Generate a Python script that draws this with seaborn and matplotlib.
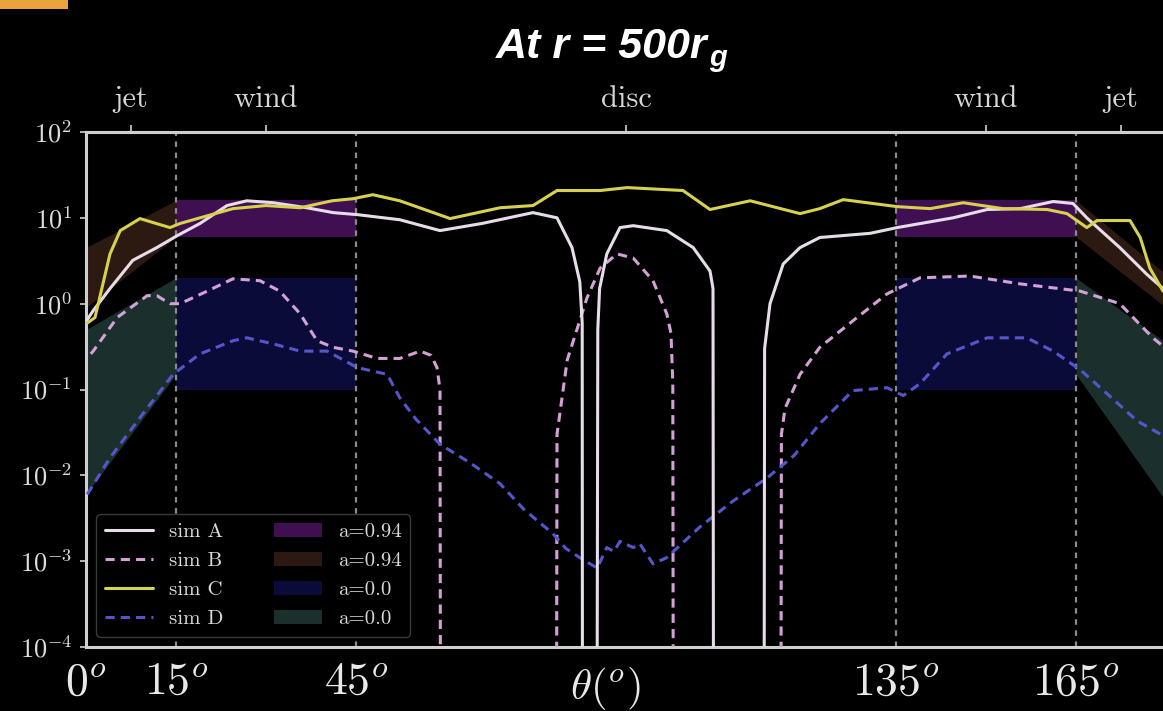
import numpy as np
import pandas as pd
import matplotlib
matplotlib.use("Agg")
import matplotlib.pyplot as plt
import seaborn as sns
from matplotlib.lines import Line2D
from matplotlib.patches import Patch, Rectangle

# ---------------- data ----------------
simA_theta = [0.2, 1.2, 4.0, 7.8, 11.8, 15.2, 19.0, 23.5, 26.8, 31.2, 36.8, 41.2, 45.2, 52.3,
              59.0, 66.0, 74.5, 78.5, 81.0, 82.3, 82.7, 82.75, 85.15, 85.3, 85.6, 86.8, 89.0,
              91.2, 96.8, 101.2, 104.0, 104.5, 104.6, 113.0, 113.1, 114.0, 116.2, 119.0, 122.3,
              130.7, 135.2, 144.5, 150.2, 155.7, 161.2, 164.5, 166.8, 172.3, 176.8, 179.5]
simA_val = [0.65, 0.83, 1.5, 3.2, 4.5, 6.2, 8.6, 13.9, 15.8, 15.0, 13.1, 11.5, 10.9, 9.5,
            7.1, 8.6, 11.5, 10.0, 4.5, 1.8, 0.6, 1e-6, 1e-6, 0.5, 1.5, 3.8, 7.7,
            8.1, 7.1, 4.5, 2.4, 1.5, 1e-6, 1e-6, 0.3, 1.0, 2.9, 4.5, 5.9,
            6.6, 7.7, 10.0, 12.5, 12.8, 15.5, 14.7, 10.0, 4.5, 2.2, 1.5]

simB_theta = [0.8, 1.2, 5.2, 10.2, 11.8, 14.0, 15.7, 20.2, 24.5, 29.0, 32.3, 35.7, 38.5, 41.2,
              44.5, 48.5, 52.3, 55.7, 57.5, 58.5, 59.0, 59.1, 78.4, 78.5, 80.2, 83.5, 85.7,
              88.5, 91.2, 94.5, 96.8, 97.5, 97.8, 97.9, 115.8, 115.9, 116.5, 119.0, 122.3,
              127.8, 133.5, 139.0, 147.3, 155.7, 165.7, 172.3, 177.8, 179.5]
simB_val = [0.26, 0.28, 0.69, 1.24, 1.24, 1.0, 1.0, 1.4, 1.95, 1.85, 1.4, 0.76, 0.37, 0.31,
            0.28, 0.23, 0.23, 0.28, 0.25, 0.18, 0.1, 1e-6, 1e-6, 0.03, 0.22, 1.17, 2.6,
            3.8, 3.4, 1.85, 0.76, 0.45, 0.12, 1e-6, 1e-6, 0.03, 0.06, 0.15, 0.31,
            0.63, 1.3, 2.0, 2.1, 1.7, 1.4, 1.0, 0.4, 0.32]

simC_theta = [0.3, 1.5, 4.0, 5.7, 9.0, 11.2, 14.0, 15.7, 19.0, 24.5, 30.0, 35.7, 41.0, 44.5,
              47.8, 52.3, 60.7, 69.0, 74.5, 78.5, 85.7, 90.2, 99.5, 104.0, 110.7, 119.0,
              122.3, 126.2, 135.2, 140.7, 146.2, 152.8, 160.2, 163.5, 166.8, 168.5, 174.0,
              175.7, 177.3, 179.5]
simC_val = [0.6, 0.69, 3.8, 7.1, 9.8, 8.8, 7.7, 8.6, 10.0, 12.8, 13.9, 13.1, 15.8, 16.7,
            18.6, 15.8, 9.8, 13.1, 13.9, 20.8, 20.8, 22.5, 20.8, 12.5, 15.8, 11.2,
            12.8, 16.3, 13.5, 12.8, 15.0, 12.8, 12.5, 11.2, 7.7, 9.3, 9.3,
            5.9, 2.6, 1.4]

simD_theta = [0.2, 4.0, 9.0, 14.5, 19.0, 24.5, 26.8, 31.2, 35.7, 40.2, 45.2, 50.2, 52.3, 55.0,
              59.0, 64.0, 69.0, 73.0, 77.8, 80.0, 82.3, 85.2, 86.8, 88.0, 89.0, 91.2, 92.3,
              94.5, 96.8, 102.3, 107.8, 113.5, 118.0, 122.3, 127.8, 133.5, 136.2, 139.0,
              143.5, 150.2, 156.8, 161.2, 165.7, 170.2, 175.2, 179.5]
simD_val = [0.006, 0.016, 0.047, 0.15, 0.26, 0.37, 0.4, 0.34, 0.28, 0.28, 0.18, 0.15, 0.08, 0.045,
            0.023, 0.014, 0.008, 0.004, 0.0021, 0.0014, 0.0011, 0.00083, 0.00144, 0.0013, 0.0017,
            0.00144, 0.0016, 0.00093, 0.0011, 0.0025, 0.005, 0.0093, 0.017, 0.04, 0.097, 0.105,
            0.085, 0.117, 0.26, 0.4, 0.4, 0.28, 0.17, 0.089, 0.043, 0.029]

# shaded ranges
wind_left = [15, 45]
wind_right = [135, 165]
wind_a094 = (6.0, 16.0)
wind_a00 = (0.1, 2.0)
jet_left = [0, 15]
jet_right = [165, 180]
jet_a094_left_lo, jet_a094_left_hi = [0.9, 6.0], [4.5, 16.0]
jet_a094_right_lo, jet_a094_right_hi = [6.0, 0.9], [16.0, 2.2]
jet_a00_left_lo, jet_a00_left_hi = [0.006, 0.15], [0.5, 2.0]
jet_a00_right_lo, jet_a00_right_hi = [0.15, 0.005], [2.0, 0.35]

sim_labels = ["sim A", "sim B", "sim C", "sim D"]
band_labels = ["a=0.94", "a=0.94", "a=0.0", "a=0.0"]
xtick_pos = [0, 15, 45, 135, 165]
xtick_lab = [r"$0^o$", r"$15^o$", r"$45^o$", r"$135^o$", r"$165^o$"]
ytick_pos = [1e-4, 1e-3, 1e-2, 1e-1, 1e0, 1e1, 1e2]
ytick_lab = [r"$10^{-4}$", r"$10^{-3}$", r"$10^{-2}$", r"$10^{-1}$", r"$10^{0}$", r"$10^{1}$", r"$10^{2}$"]
top_pos = [7.5, 30, 90, 150, 172.5]
top_lab = ["jet", "wind", "disc", "wind", "jet"]

# ---------------- style ----------------
sns.set_theme(style="dark", rc={
    "figure.facecolor": "black", "axes.facecolor": "black",
    "axes.edgecolor": "#cfcfcf", "axes.grid": False,
    "xtick.color": "#cfcfcf", "ytick.color": "#cfcfcf",
    "text.color": "white",
})
plt.rcParams["mathtext.fontset"] = "cm"

col_A = "#e6dde8"
col_B = "#d4a0d6"
col_C = "#d6d24e"
col_D = "#5656cc"
col_wind094 = "#3f0f52"
col_jet094 = "#2c1a12"
col_wind00 = "#0b0b3a"
col_jet00 = "#1b2f2d"

fig = plt.figure(figsize=(11.63, 7.11), dpi=100)
ax = fig.add_axes([86 / 1163, 1 - 647 / 711, 1080 / 1163, (647 - 132) / 711])
ax.set_yscale("log")

# bands
ax.fill_between(wind_left, wind_a094[0], wind_a094[1], color=col_wind094, lw=0, zorder=1)
ax.fill_between(wind_right, wind_a094[0], wind_a094[1], color=col_wind094, lw=0, zorder=1)
ax.fill_between(wind_left, wind_a00[0], wind_a00[1], color=col_wind00, lw=0, zorder=1)
ax.fill_between(wind_right, wind_a00[0], wind_a00[1], color=col_wind00, lw=0, zorder=1)
ax.fill_between(jet_left, jet_a094_left_lo, jet_a094_left_hi, color=col_jet094, lw=0, zorder=1)
ax.fill_between(jet_right, jet_a094_right_lo, jet_a094_right_hi, color=col_jet094, lw=0, zorder=1)
ax.fill_between(jet_left, jet_a00_left_lo, jet_a00_left_hi, color=col_jet00, lw=0, zorder=1)
ax.fill_between(jet_right, jet_a00_right_lo, jet_a00_right_hi, color=col_jet00, lw=0, zorder=1)

for xv in [15, 45, 135, 165]:
    ax.axvline(xv, color="#8a8a8a", lw=1.6, dashes=(2.5, 2.5), zorder=2)

dfA = pd.DataFrame({"theta": simA_theta, "val": simA_val})
dfB = pd.DataFrame({"theta": simB_theta, "val": simB_val})
dfC = pd.DataFrame({"theta": simC_theta, "val": simC_val})
dfD = pd.DataFrame({"theta": simD_theta, "val": simD_val})

sns.lineplot(data=dfA, x="theta", y="val", ax=ax, color=col_A, lw=2.2, zorder=4)
sns.lineplot(data=dfB, x="theta", y="val", ax=ax, color=col_B, lw=2.2, dashes=False,
             linestyle=(0, (3, 2)), zorder=3)
sns.lineplot(data=dfC, x="theta", y="val", ax=ax, color=col_C, lw=2.2, zorder=4)
sns.lineplot(data=dfD, x="theta", y="val", ax=ax, color=col_D, lw=2.2, dashes=False,
             linestyle=(0, (3, 2)), zorder=3)

ax.set_xlim(0, 180)
ax.set_ylim(1e-4, 1e2)
ax.set_xlabel("")
ax.set_ylabel("")
ax.set_xticks(xtick_pos)
ax.set_xticklabels(xtick_lab, fontsize=33, color="#e8e8e8")
ax.set_yticks(ytick_pos)
ax.set_yticklabels(ytick_lab, fontsize=19, color="#dddddd")
ax.yaxis.set_minor_locator(matplotlib.ticker.NullLocator())
ax.tick_params(axis="x", length=0, pad=9)
ax.tick_params(axis="y", length=4, width=1.2, pad=6, left=True)
for s in ["left", "bottom", "top"]:
    ax.spines[s].set_linewidth(2.2)
    ax.spines[s].set_color("#cfcfcf")
ax.spines["right"].set_visible(False)

ax.text(86.5, -0.035, r"$\theta(^o)$", transform=ax.get_xaxis_transform(),
        ha="center", va="top", fontsize=31, color="#e8e8e8")

sec = ax.secondary_xaxis("top")
sec.set_xticks(top_pos)
sec.set_xticklabels(top_lab, fontsize=22, family="cmr10", color="#d6d6d6")
sec.tick_params(length=5, width=1.2, pad=9, color="#cfcfcf")
sec.spines["top"].set_linewidth(2.2)
sec.spines["top"].set_color("#cfcfcf")

handles = [
    Line2D([], [], color=col_A, lw=2.2),
    Line2D([], [], color=col_B, lw=2.2, linestyle=(0, (3, 2))),
    Line2D([], [], color=col_C, lw=2.2),
    Line2D([], [], color=col_D, lw=2.2, linestyle=(0, (3, 2))),
    Patch(facecolor=col_wind094, edgecolor="none"),
    Patch(facecolor=col_jet094, edgecolor="none"),
    Patch(facecolor=col_wind00, edgecolor="none"),
    Patch(facecolor=col_jet00, edgecolor="none"),
]
leg = ax.legend(handles, sim_labels + band_labels, ncol=2, loc="lower left",
                prop={"family": "cmr10", "size": 15}, handlelength=2.3,
                columnspacing=2.4, labelspacing=0.5, facecolor="black", edgecolor="#3a3a3a",
                framealpha=1.0, labelcolor="#d8d8d8", borderaxespad=0.5)
leg.get_frame().set_linewidth(1.0)

# title
fig.text(708 / 1163, 1 - 58 / 711, "At r = 500r", ha="right", va="baseline",
         fontsize=31, fontweight="bold", style="italic", family="Liberation Sans", color="white")
fig.text(709 / 1163, 1 - 66 / 711, "g", ha="left", va="baseline",
         fontsize=21, fontweight="bold", style="italic", family="Liberation Sans", color="white")

# slide accent
fig.patches.append(Rectangle((0, 1 - 9 / 711), 68 / 1163, 9 / 711, transform=fig.transFigure,
                             facecolor="#eba43c", edgecolor="none", zorder=5))

fig.savefig("out.png", dpi=100, facecolor="black")
